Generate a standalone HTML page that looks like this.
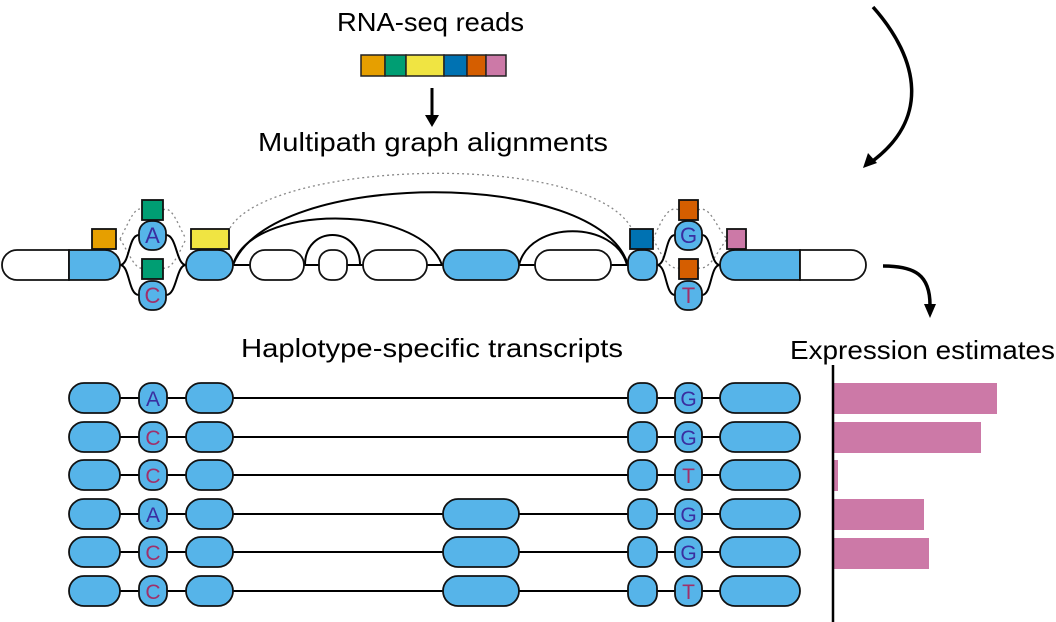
<!DOCTYPE html>
<html><head><meta charset="utf-8"><style>
html,body{margin:0;padding:0;background:#fff}
svg{display:block}
text{font-family:"Liberation Sans",sans-serif}
</style></head><body>
<svg width="1056" height="622" viewBox="0 0 1056 622" xmlns="http://www.w3.org/2000/svg">
<g fill="#000" font-size="26">
<text x="337" y="31" textLength="187" lengthAdjust="spacingAndGlyphs">RNA-seq reads</text>
<text x="258" y="151" textLength="350" lengthAdjust="spacingAndGlyphs">Multipath graph alignments</text>
<text x="241" y="357" textLength="382" lengthAdjust="spacingAndGlyphs">Haplotype-specific transcripts</text>
<text x="790" y="359" textLength="265" lengthAdjust="spacingAndGlyphs">Expression estimates</text>
</g>
<!-- read bar -->
<g stroke="#222" stroke-width="1.5">
<rect x="361" y="55" width="24" height="21" fill="#e69f00"/>
<rect x="385" y="55" width="21" height="21" fill="#009e73"/>
<rect x="406" y="55" width="38" height="21" fill="#f0e442"/>
<rect x="444" y="55" width="23" height="21" fill="#0072b2"/>
<rect x="467" y="55" width="19" height="21" fill="#d55e00"/>
<rect x="486" y="55" width="20" height="21" fill="#cc79a7"/>
</g>
<line x1="432" y1="88" x2="432" y2="120" stroke="#000" stroke-width="3"/>
<path d="M425,115 L432,127 L439,115 z" fill="#000"/>
<!-- curved arrows -->
<path d="M873,7 C920,60 930,120 870,163" fill="none" stroke="#000" stroke-width="3.5"/>
<path d="M863,168 L868,153 L877,163 z" fill="#000"/>
<path d="M883,266 C915,266 930,275 930,305" fill="none" stroke="#000" stroke-width="3.5"/>
<path d="M924,304 L930,318 L936,304 z" fill="#000"/>
<!-- dotted arcs -->
<g fill="none" stroke="#888" stroke-width="1.3" stroke-dasharray="2,3">
<path d="M230,228 C270,160 590,150 632,229"/>
<path d="M120,239 C130,220 135,205 143,210 M163,210 C172,205 178,225 186,239"/>
<path d="M120,239 C130,255 135,270 143,268 M163,268 C172,270 178,255 186,239"/>
<path d="M653,239 C662,220 668,205 679,210 M698,210 C710,205 715,225 727,239"/>
<path d="M653,239 C662,255 668,270 679,268 M698,268 C710,270 715,255 727,239"/>
</g>
<!-- solid connectors top graph -->
<g fill="none" stroke="#000" stroke-width="2">
<path d="M120,265 C130,265 128,235 139,235 M166,235 C177,235 176,265 186,265"/>
<path d="M120,265 C130,265 128,295 139,295 M166,295 C177,295 176,265 186,265"/>
<line x1="233" y1="265" x2="250" y2="265"/>
<line x1="304" y1="265" x2="319" y2="265"/>
<line x1="347" y1="265" x2="363" y2="265"/>
<line x1="427" y1="265" x2="443" y2="265"/>
<line x1="519" y1="265" x2="535" y2="265"/>
<line x1="611" y1="265" x2="628" y2="265"/>
<path d="M305,265 C305,225 360,225 360,265"/>
<path d="M233,265 C250,203 420,203 442,265"/>
<path d="M233,265 C270,168 600,168 628,265"/>
<path d="M519,265 C530,220 615,220 627,265"/>
<path d="M657,265 C667,265 665,235 675,235 M702,235 C712,235 710,265 720,265"/>
<path d="M657,265 C667,265 665,295 675,295 M702,295 C712,295 710,265 720,265"/>
</g>
<!-- top exons -->
<g stroke="#111" stroke-width="1.8">
<path d="M17,250 H69 V280 H17 A15,15 0 0 1 17,250 z" fill="#fff"/>
<path d="M69,250 H105 A15,15 0 0 1 105,280 H69 z" fill="#56b4e9"/>
<rect x="186" y="250" width="47" height="30" rx="15" fill="#56b4e9"/>
<rect x="250" y="250" width="54" height="30" rx="15" fill="#fff"/>
<rect x="319" y="250" width="28" height="30" rx="12" fill="#fff"/>
<rect x="363" y="250" width="64" height="30" rx="15" fill="#fff"/>
<rect x="443" y="250" width="76" height="30" rx="15" fill="#56b4e9"/>
<rect x="535" y="250" width="76" height="30" rx="15" fill="#fff"/>
<rect x="628" y="250" width="29" height="30" rx="12" fill="#56b4e9"/>
<path d="M735,250 H800 V280 H735 A15,15 0 0 1 735,250 z" fill="#56b4e9"/>
<path d="M800,250 H851 A15,15 0 0 1 851,280 H800 z" fill="#fff"/>
<rect x="139" y="221" width="27" height="29" rx="12" fill="#56b4e9"/>
<rect x="139" y="281" width="27" height="29" rx="12" fill="#56b4e9"/>
<rect x="675" y="221" width="27" height="29" rx="12" fill="#56b4e9"/>
<rect x="675" y="281" width="27" height="29" rx="12" fill="#56b4e9"/>
<rect x="92" y="229" width="24" height="20" fill="#e69f00"/>
<rect x="142" y="200" width="21" height="20" fill="#009e73"/>
<rect x="142" y="259" width="21" height="20" fill="#009e73"/>
<rect x="191" y="229" width="38" height="20" fill="#f0e442"/>
<rect x="630" y="229" width="23" height="20" fill="#0072b2"/>
<rect x="679" y="200" width="19" height="20" fill="#d55e00"/>
<rect x="679" y="259" width="19" height="20" fill="#d55e00"/>
<rect x="727" y="229" width="19" height="20" fill="#cc79a7"/>
</g>
<g font-size="22" text-anchor="middle">
<text x="152.5" y="243" fill="#3a2ea0">A</text>
<text x="152.5" y="303" fill="#a0306a">C</text>
<text x="688.5" y="243" fill="#3a2ea0">G</text>
<text x="688.5" y="303" fill="#a0306a">T</text>
</g>
<!-- transcripts -->
<g stroke="#111" stroke-width="1.8" fill="#56b4e9" font-size="21" text-anchor="middle">
<g transform="translate(0,398)">
<line x1="100" y1="0" x2="730" y2="0" stroke="#000" stroke-width="2"/>
<rect x="69" y="-15" width="51" height="30" rx="15"/><rect x="139" y="-15" width="28" height="30" rx="12"/><rect x="186" y="-15" width="47" height="30" rx="15"/>
<rect x="628" y="-15" width="29" height="30" rx="12"/><rect x="675" y="-15" width="27" height="30" rx="12"/><rect x="720" y="-15" width="80" height="30" rx="15"/>
<text x="153" y="8" fill="#3a2ea0" stroke="none">A</text><text x="688.5" y="8" fill="#3a2ea0" stroke="none">G</text>
</g>
<g transform="translate(0,437)">
<line x1="100" y1="0" x2="730" y2="0" stroke="#000" stroke-width="2"/>
<rect x="69" y="-15" width="51" height="30" rx="15"/><rect x="139" y="-15" width="28" height="30" rx="12"/><rect x="186" y="-15" width="47" height="30" rx="15"/>
<rect x="628" y="-15" width="29" height="30" rx="12"/><rect x="675" y="-15" width="27" height="30" rx="12"/><rect x="720" y="-15" width="80" height="30" rx="15"/>
<text x="153" y="8" fill="#a0306a" stroke="none">C</text><text x="688.5" y="8" fill="#3a2ea0" stroke="none">G</text>
</g>
<g transform="translate(0,475)">
<line x1="100" y1="0" x2="730" y2="0" stroke="#000" stroke-width="2"/>
<rect x="69" y="-15" width="51" height="30" rx="15"/><rect x="139" y="-15" width="28" height="30" rx="12"/><rect x="186" y="-15" width="47" height="30" rx="15"/>
<rect x="628" y="-15" width="29" height="30" rx="12"/><rect x="675" y="-15" width="27" height="30" rx="12"/><rect x="720" y="-15" width="80" height="30" rx="15"/>
<text x="153" y="8" fill="#a0306a" stroke="none">C</text><text x="688.5" y="8" fill="#a0306a" stroke="none">T</text>
</g>
<g transform="translate(0,514)">
<line x1="100" y1="0" x2="730" y2="0" stroke="#000" stroke-width="2"/>
<rect x="69" y="-15" width="51" height="30" rx="15"/><rect x="139" y="-15" width="28" height="30" rx="12"/><rect x="186" y="-15" width="47" height="30" rx="15"/>
<rect x="443" y="-15" width="76" height="30" rx="15"/>
<rect x="628" y="-15" width="29" height="30" rx="12"/><rect x="675" y="-15" width="27" height="30" rx="12"/><rect x="720" y="-15" width="80" height="30" rx="15"/>
<text x="153" y="8" fill="#3a2ea0" stroke="none">A</text><text x="688.5" y="8" fill="#3a2ea0" stroke="none">G</text>
</g>
<g transform="translate(0,552)">
<line x1="100" y1="0" x2="730" y2="0" stroke="#000" stroke-width="2"/>
<rect x="69" y="-15" width="51" height="30" rx="15"/><rect x="139" y="-15" width="28" height="30" rx="12"/><rect x="186" y="-15" width="47" height="30" rx="15"/>
<rect x="443" y="-15" width="76" height="30" rx="15"/>
<rect x="628" y="-15" width="29" height="30" rx="12"/><rect x="675" y="-15" width="27" height="30" rx="12"/><rect x="720" y="-15" width="80" height="30" rx="15"/>
<text x="153" y="8" fill="#a0306a" stroke="none">C</text><text x="688.5" y="8" fill="#3a2ea0" stroke="none">G</text>
</g>
<g transform="translate(0,591)">
<line x1="100" y1="0" x2="730" y2="0" stroke="#000" stroke-width="2"/>
<rect x="69" y="-15" width="51" height="30" rx="15"/><rect x="139" y="-15" width="28" height="30" rx="12"/><rect x="186" y="-15" width="47" height="30" rx="15"/>
<rect x="443" y="-15" width="76" height="30" rx="15"/>
<rect x="628" y="-15" width="29" height="30" rx="12"/><rect x="675" y="-15" width="27" height="30" rx="12"/><rect x="720" y="-15" width="80" height="30" rx="15"/>
<text x="153" y="8" fill="#a0306a" stroke="none">C</text><text x="688.5" y="8" fill="#a0306a" stroke="none">T</text>
</g>
</g>
<!-- bars -->
<g fill="#cc79a7">
<rect x="834" y="383" width="163" height="31"/>
<rect x="834" y="422" width="147" height="31"/>
<rect x="834" y="460" width="4" height="31"/>
<rect x="834" y="499" width="90" height="31"/>
<rect x="834" y="538" width="95" height="31"/>
</g>
<line x1="833" y1="365" x2="833" y2="622" stroke="#000" stroke-width="2.5"/>
</svg>
</body></html>
